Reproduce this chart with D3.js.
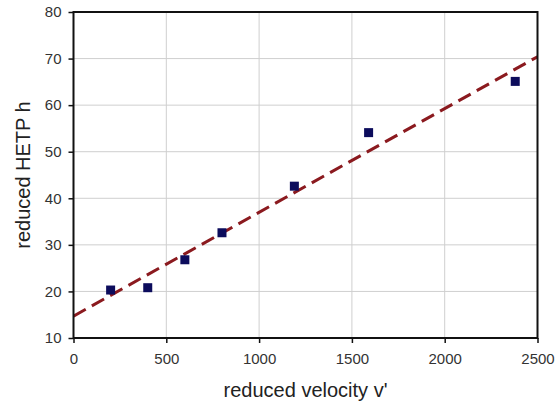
<!DOCTYPE html>
<html>
<head>
<meta charset="utf-8">
<script src="https://cdn.jsdelivr.net/npm/d3@7/dist/d3.min.js"></script>
<style>
  html, body { margin: 0; padding: 0; background: #fff; }
  svg { display: block; font-family: "Liberation Sans", Arial, sans-serif; }
</style>
</head>
<body>
<script>
// Measured points: reduced velocity v' vs reduced HETP h
const velocity = [200, 400, 600, 800, 1190, 1590, 2380];
const hetp = [20.3, 20.8, 26.8, 32.6, 42.6, 54.1, 65.1];

// Fitted straight line, given by its two end points
const trendV = [0, 2500];
const trendH = [14.7, 70.4];

const xTicks = [0, 500, 1000, 1500, 2000, 2500];
const yTicks = [10, 20, 30, 40, 50, 60, 70, 80];

const W = 556, H = 405;
const plotL = 73.5, plotR = 537.5, plotT = 12, plotB = 338;

const svg = d3.select("body").append("svg").attr("width", W).attr("height", H);

const x = d3.scaleLinear().domain([0, 2500]).range([plotL, plotR]);
const y = d3.scaleLinear().domain([10, 80]).range([plotB, plotT]);

// grid
svg.append("g").selectAll("line").data(xTicks.slice(1, -1)).join("line")
  .attr("x1", d => x(d)).attr("x2", d => x(d)).attr("y1", plotT).attr("y2", plotB)
  .attr("stroke", "#cfcfcf").attr("stroke-width", 1);
svg.append("g").selectAll("line").data(yTicks.slice(1, -1)).join("line")
  .attr("x1", plotL).attr("x2", plotR).attr("y1", d => y(d)).attr("y2", d => y(d))
  .attr("stroke", "#cfcfcf").attr("stroke-width", 1);

// trend line
svg.append("clipPath").attr("id", "plotclip").append("rect")
  .attr("x", plotL).attr("y", plotT).attr("width", plotR - plotL).attr("height", plotB - plotT);
svg.append("path")
  .datum(trendV.map((v, i) => [v, trendH[i]]))
  .attr("clip-path", "url(#plotclip)")
  .attr("d", d3.line().x(d => x(d[0])).y(d => y(d[1])))
  .attr("fill", "none").attr("stroke", "#8b1a1f").attr("stroke-width", 3)
  .attr("stroke-dasharray", "14,7");

// markers
const s = 9;
svg.append("g").selectAll("rect").data(velocity.map((v, i) => [v, hetp[i]])).join("rect")
  .attr("x", d => x(d[0]) - s / 2).attr("y", d => y(d[1]) - s / 2)
  .attr("width", s).attr("height", s).attr("fill", "#0c0c5c");

// frame
svg.append("rect").attr("x", plotL).attr("y", plotT).attr("width", plotR - plotL).attr("height", plotB - plotT)
  .attr("fill", "none").attr("stroke", "#111").attr("stroke-width", 2);

// axes
const xAxis = svg.append("g").attr("transform", `translate(0,${plotB})`)
  .call(d3.axisBottom(x).tickValues(xTicks).tickSize(5).tickPadding(10).tickFormat(d3.format("d")));
const yAxis = svg.append("g").attr("transform", `translate(${plotL},0)`)
  .call(d3.axisLeft(y).tickValues(yTicks).tickSize(5).tickPadding(7).tickFormat(d3.format("d")));
[xAxis, yAxis].forEach(g => {
  g.select(".domain").remove();
  g.selectAll(".tick line").attr("stroke", "#111").attr("stroke-width", 1.5);
  g.selectAll(".tick text").attr("fill", "#333").attr("font-size", 15)
    .attr("font-family", "'Liberation Sans', Arial, sans-serif");
});

// axis titles
svg.append("text").attr("x", (plotL + plotR) / 2).attr("y", 397)
  .attr("text-anchor", "middle").attr("font-size", 20).attr("fill", "#222")
  .text("reduced velocity v'");
svg.append("text").attr("transform", `translate(30,${(plotT + plotB) / 2}) rotate(-90)`)
  .attr("text-anchor", "middle").attr("font-size", 20).attr("fill", "#222")
  .text("reduced HETP h");
</script>
</body>
</html>
